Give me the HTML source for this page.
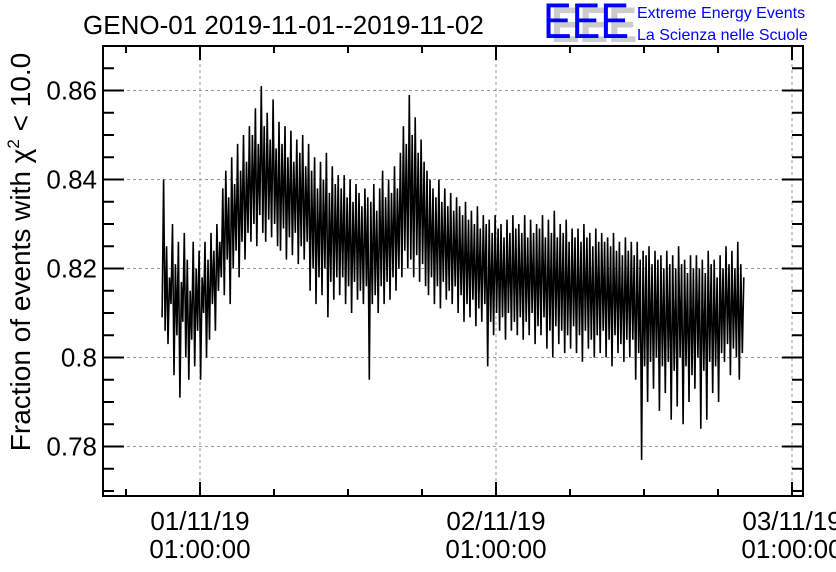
<!DOCTYPE html>
<html><head><meta charset="utf-8"><style>
html,body{margin:0;padding:0;background:#fff;}
svg{display:block;font-family:"Liberation Sans",sans-serif;}
</style></head><body>
<svg id="chart" width="836" height="572" xmlns="http://www.w3.org/2000/svg">
<text x="83" y="34" font-size="26">GENO-01 2019-11-01--2019-11-02</text>
<g>
<text x="551" y="42" font-size="50" fill="#ccc" font-weight="bold" textLength="86" lengthAdjust="spacingAndGlyphs">EEE</text>
<text x="543" y="38" font-size="50" fill="#0000ff" textLength="86" lengthAdjust="spacingAndGlyphs">EEE</text>
<text x="637" y="18" font-size="16" fill="#0000ff">Extreme Energy Events</text>
<text x="637" y="40" font-size="16" fill="#0000ff">La Scienza nelle Scuole</text>
</g>
<g id="grid"></g>
<g id="series"></g>
<g id="axes"></g>
<text transform="translate(30,252) rotate(-90)" text-anchor="middle" font-size="28">Fraction of events with χ<tspan font-size="17" dy="-11">2</tspan><tspan dy="11"> &lt; 10.0</tspan></text>
</svg>
<script>
const yTicks=[0.78,0.80,0.82,0.84,0.86];
const yTickLabels=["0.78","0.8","0.82","0.84","0.86"];
const xTicks=[0,1,2];
const xTickLabels=[["01/11/19","01:00:00"],["02/11/19","01:00:00"],["03/11/19","01:00:00"]];
const tStart=-0.128, tStep=0.005;
const values=[
0.809,0.840,0.806,0.825,0.803,0.818,0.812,0.830,0.796,0.821,0.805,0.826,0.791,0.817,0.808,0.828,0.800,0.822,0.795,0.815,
0.804,0.826,0.798,0.820,0.806,0.824,0.795,0.818,0.810,0.826,0.800,0.822,0.804,0.828,0.812,0.824,0.806,0.830,0.815,0.826,
0.818,0.838,0.814,0.842,0.822,0.836,0.812,0.845,0.820,0.839,0.824,0.848,0.818,0.842,0.826,0.850,0.822,0.844,0.828,0.852,
0.826,0.850,0.830,0.856,0.825,0.848,0.832,0.861,0.828,0.852,0.826,0.855,0.831,0.849,0.827,0.858,0.830,0.847,0.825,0.853,
0.824,0.848,0.829,0.852,0.822,0.845,0.827,0.851,0.823,0.844,0.828,0.849,0.821,0.846,0.825,0.850,0.822,0.843,0.826,0.848,
0.815,0.842,0.820,0.845,0.812,0.838,0.818,0.844,0.814,0.840,0.820,0.846,0.809,0.837,0.817,0.843,0.813,0.839,0.818,0.841,
0.814,0.838,0.818,0.841,0.812,0.836,0.816,0.840,0.810,0.835,0.817,0.839,0.813,0.837,0.815,0.834,0.812,0.838,0.816,0.836,
0.795,0.835,0.812,0.839,0.814,0.833,0.810,0.838,0.816,0.842,0.812,0.836,0.817,0.840,0.813,0.837,0.818,0.843,0.815,0.838,
0.820,0.846,0.818,0.852,0.824,0.848,0.820,0.859,0.822,0.850,0.818,0.854,0.823,0.846,0.817,0.849,0.821,0.844,0.816,0.842,
0.814,0.840,0.818,0.838,0.812,0.836,0.816,0.840,0.811,0.835,0.817,0.838,0.813,0.834,0.815,0.837,0.812,0.833,0.816,0.836,
0.810,0.834,0.814,0.832,0.808,0.835,0.812,0.831,0.809,0.833,0.813,0.830,0.807,0.834,0.811,0.829,0.808,0.832,0.812,0.830,
0.798,0.831,0.808,0.828,0.805,0.832,0.810,0.829,0.806,0.830,0.809,0.827,0.804,0.831,0.810,0.828,0.806,0.832,0.808,0.829,
0.805,0.830,0.809,0.828,0.804,0.832,0.808,0.827,0.805,0.831,0.810,0.828,0.803,0.830,0.807,0.829,0.805,0.832,0.809,0.827,
0.802,0.831,0.806,0.828,0.800,0.833,0.807,0.827,0.803,0.830,0.806,0.828,0.801,0.831,0.805,0.826,0.802,0.829,0.807,0.827,
0.801,0.829,0.805,0.826,0.799,0.830,0.806,0.827,0.802,0.828,0.804,0.825,0.800,0.829,0.805,0.826,0.801,0.828,0.806,0.826,
0.800,0.827,0.804,0.825,0.798,0.828,0.805,0.824,0.801,0.826,0.803,0.823,0.799,0.827,0.804,0.824,0.800,0.826,0.804,0.823,
0.795,0.826,0.801,0.822,0.777,0.824,0.798,0.823,0.790,0.825,0.799,0.821,0.793,0.824,0.800,0.822,0.788,0.823,0.798,0.820,
0.792,0.824,0.799,0.821,0.786,0.823,0.797,0.820,0.789,0.825,0.800,0.821,0.785,0.822,0.798,0.819,0.790,0.823,0.796,0.820,
0.793,0.823,0.800,0.820,0.784,0.822,0.797,0.819,0.786,0.824,0.799,0.821,0.792,0.822,0.798,0.818,0.790,0.823,0.801,0.820,
0.799,0.825,0.803,0.821,0.796,0.824,0.802,0.820,0.800,0.826,0.795,0.821,0.801,0.818
];
const X0=200, XD=296, Y0=357.5, YS=4450;
const xs=t=>X0+t*XD, ys=v=>Y0-(v-0.80)*YS;
const L=103,R=803,T=46,B=496;
const NS="http://www.w3.org/2000/svg";
function mk(p,tag,a){const e=document.createElementNS(NS,tag);for(const k in a)e.setAttribute(k,a[k]);p.appendChild(e);return e;}
const grid=document.getElementById('grid'),axes=document.getElementById('axes'),ser=document.getElementById('series');
yTicks.forEach((v,i)=>{
 const g=mk(grid,'line',{x1:L,x2:R,y1:ys(v),y2:ys(v),stroke:'#999','stroke-dasharray':'3,3','stroke-width':1});
 
 
 mk(axes,'line',{x1:L,x2:L+21,y1:ys(v),y2:ys(v),stroke:'#000','stroke-width':2});
 mk(axes,'line',{x1:R,x2:R-21,y1:ys(v),y2:ys(v),stroke:'#000','stroke-width':2});
 const t=mk(axes,'text',{x:L-6,y:ys(v)+9,'text-anchor':'end','font-size':26});
 t.textContent=yTickLabels[i];
 
 
});
for(let v=0.770;v<=0.8695;v+=0.005){if(ys(v)>T&&ys(v)<B){mk(axes,'line',{x1:L,x2:L+11,y1:ys(v),y2:ys(v),stroke:'#000','stroke-width':2});mk(axes,'line',{x1:R,x2:R-11,y1:ys(v),y2:ys(v),stroke:'#000','stroke-width':2});}}
xTicks.forEach((d,i)=>{
 const x=xs(d);
 if(x<R){const g=mk(grid,'line',{x1:x,x2:x,y1:T,y2:B,stroke:'#999','stroke-dasharray':'3,3','stroke-width':1});
 
 }
 mk(axes,'line',{x1:x,x2:x,y1:B,y2:B-14,stroke:'#000','stroke-width':2});
 mk(axes,'line',{x1:x,x2:x,y1:T,y2:T+14,stroke:'#000','stroke-width':2});
 xTickLabels[i].forEach((s,j)=>{const t=mk(axes,'text',{x:x,y:530+j*28,'text-anchor':'middle','font-size':26});t.textContent=s;
 
 });
});
for(let d=-0.25;d<2.1;d+=0.25){const x=xs(d);if(x>L&&x<R){mk(axes,'line',{x1:x,x2:x,y1:B,y2:B-7,stroke:'#000','stroke-width':2});mk(axes,'line',{x1:x,x2:x,y1:T,y2:T+7,stroke:'#000','stroke-width':2});}}
mk(axes,'rect',{x:L,y:T,width:R-L,height:B-T,fill:'none',stroke:'#000','stroke-width':2});
const pts=values.map((v,i)=>xs(tStart+i*tStep).toFixed(1)+','+ys(v).toFixed(1)).join(' ');
const pl=mk(ser,'polyline',{points:pts,fill:'none',stroke:'#000','stroke-width':1.6});


</script>
</body></html>
